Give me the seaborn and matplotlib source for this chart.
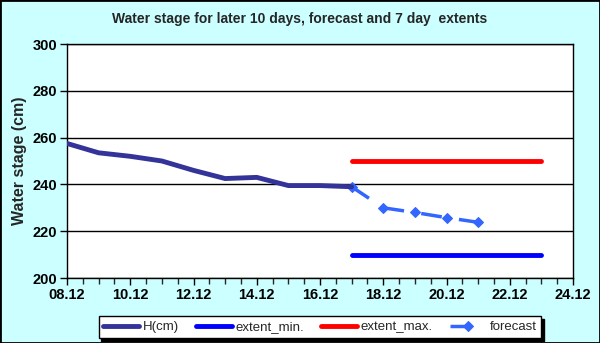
import numpy as np
import pandas as pd
import matplotlib
matplotlib.use('Agg')
import matplotlib.pyplot as plt
import seaborn as sns

# dias de dezembro
h_days = [8, 9, 10, 11, 12, 13, 14, 15, 16, 17]
h_cm = [257.5, 253.5, 252, 250, 246, 242.5, 243, 239.5, 239.5, 239]
fc_days = [17, 18, 19, 20, 21]
fc_cm = [239, 230, 228, 225.8, 223.8]
ext_days = [17, 23]
ext_min = [210, 210]
ext_max = [250, 250]
xtick_days = [8, 10, 12, 14, 16, 18, 20, 22, 24]
xtick_labels = ['08.12', '10.12', '12.12', '14.12', '16.12', '18.12', '20.12', '22.12', '24.12']
yticks = [200, 220, 240, 260, 280, 300]

sns.set_style('white')
plt.rcParams['font.family'] = ['Liberation Sans', 'DejaVu Sans']
plt.rcParams['font.weight'] = 'bold'

bg = '#ccffff'
fig = plt.figure(figsize=(6, 3.43), dpi=100, facecolor=bg)
ax = fig.add_axes([67/600, 1-278/343, (573-67)/600, (278-44)/343])
ax.set_facecolor('white')

h_df = pd.DataFrame({'day': h_days, 'cm': h_cm})
fc_df = pd.DataFrame({'day': fc_days, 'cm': fc_cm})
mn_df = pd.DataFrame({'day': ext_days, 'cm': ext_min})
mx_df = pd.DataFrame({'day': ext_days, 'cm': ext_max})

sns.lineplot(data=h_df, x='day', y='cm', ax=ax, color='#333399', lw=3.5, label='H(cm)', zorder=4)
sns.lineplot(data=mn_df, x='day', y='cm', ax=ax, color='#0000ff', lw=3.5, label='extent_min.', solid_capstyle='round')
sns.lineplot(data=mx_df, x='day', y='cm', ax=ax, color='#ff0000', lw=3.5, label='extent_max.', solid_capstyle='round')
sns.lineplot(data=fc_df, x='day', y='cm', ax=ax, color='#3366ff', lw=2.5, label='forecast',
             marker='D', markersize=5, markeredgecolor='#3366ff', dashes=False, zorder=3)
ax.lines[-1].set_dashes([6, 5])

ax.set_xlim(8, 24)
ax.set_ylim(200, 300)
ax.set_xticks(xtick_days)
ax.set_xticklabels(xtick_labels)
ax.set_xticks(np.arange(8, 24.01, 0.5), minor=True)
ax.set_yticks(yticks)
ax.yaxis.grid(True, color='black', lw=1)
ax.tick_params(axis='both', which='major', direction='out', length=5, width=1, labelsize=10.5, colors='black', pad=2)
ax.tick_params(axis='x', which='minor', direction='out', length=4, width=1, bottom=True)
ax.tick_params(axis='x', which='major', bottom=True)
ax.tick_params(axis='y', which='major', left=True)
for s in ax.spines.values():
    s.set_color('black')
    s.set_linewidth(1)

ax.set_xlabel('')
ax.set_ylabel('Water stage (cm)', fontsize=11.5, fontweight='bold', labelpad=4)
fig.text(0.5, 1-19/343, 'Water stage for later 10 days, forecast and 7 day  extents',
         ha='center', va='center', fontsize=10, fontweight='bold')

leg = ax.legend(loc='center', bbox_to_anchor=(320/600, 1-327/343), bbox_transform=fig.transFigure,
                ncol=4, frameon=True, fancybox=False, shadow={'color': 'black', 'alpha': 1},
                edgecolor='black', fontsize=9.5, handlelength=2.7, columnspacing=1.3,
                handletextpad=0.3, borderpad=0.35, borderaxespad=0)
leg.get_frame().set_linewidth(1)
for t in leg.get_texts():
    t.set_fontweight('normal')

# borda preta da figura
fig.patches.append(plt.Rectangle((0, 0), 1, 1, transform=fig.transFigure, fill=False,
                                 edgecolor='black', lw=2))

fig.savefig('out.png', dpi=100, facecolor=bg)
